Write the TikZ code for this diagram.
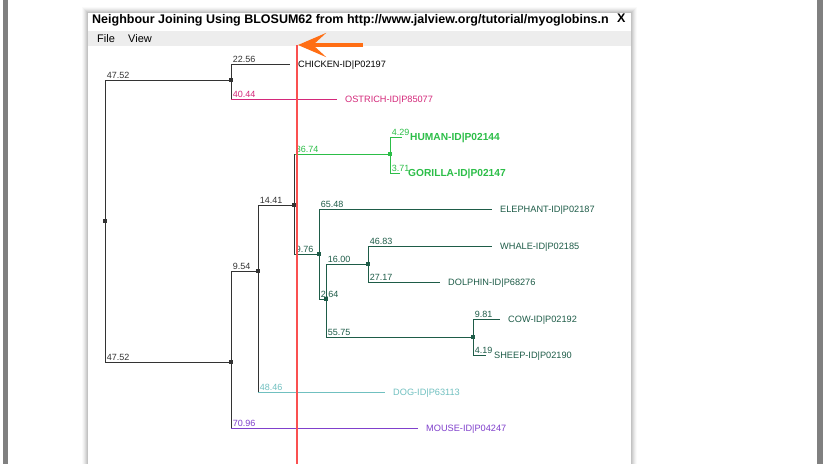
\documentclass[tikz,border=0pt]{standalone}
\usepackage{fontspec}
\setmainfont{Liberation Sans}
\usetikzlibrary{arrows.meta}
\definecolor{ostrichpink}{RGB}{212,40,122}
\definecolor{apegreen}{RGB}{44,190,72}
\definecolor{mammalgreen}{RGB}{30,92,72}
\definecolor{dogteal}{RGB}{112,192,192}
\definecolor{mousepurple}{RGB}{128,64,204}
\definecolor{cutred}{RGB}{250,80,80}
\definecolor{markorange}{RGB}{255,110,20}
\tikzset{
  branch/.style={line width=0.9pt,black!80},
  blen/.style={anchor=south west,inner xsep=1.5pt,inner ysep=1pt,font=\fontsize{9}{10}\selectfont},
  leaf/.style={anchor=west,inner xsep=8pt,inner ysep=0pt,text height=6.6pt,text depth=0pt,font=\fontsize{9.2}{10}\selectfont},
  apeleaf/.style={leaf,text height=7.3pt,font=\fontsize{10.2}{11}\selectfont\bfseries},
  dot/.style={rectangle,fill,inner sep=0pt,minimum size=4pt},
  menu/.style={anchor=base west,inner sep=0pt,font=\fontsize{11}{12}\selectfont}
}
\begin{document}
\begin{tikzpicture}[x=1pt,y=-1pt]
\useasboundingbox (0,0) rectangle (824,464);
\fill[white] (0,0) rectangle (824,464);
\fill[gray] (3,0) rectangle (8,464);
\fill[gray] (817,0) rectangle (823,464);
\foreach \s/\o in {6/.02,5/.03,4/.04,3/.05,2/.06,1/.06}
  \fill[black,opacity=\o] (88-\s,13-\s) rectangle (631+\s,464);
\fill[white] (88,13) rectangle (631,464);
\fill[black!7] (88,31) rectangle (631,46);
\node[anchor=base west,inner sep=0pt,font=\fontsize{12.5}{14}\selectfont\bfseries] (title) at (92,23.5) {Neighbour Joining Using BLOSUM62 from http://www.jalview.org/tutorial/myoglobins.n};
\node[anchor=base west,inner sep=0pt,font=\fontsize{12.5}{14}\selectfont\bfseries] (close) at (617,22) {X};
\node[menu] (file) at (97,42) {File};
\node[menu] (view) at (128,42) {View};

\node[dot,black!80] (root) at (105,221) {};
\node[dot,black!80] (birds) at (231,80) {};
\node[dot,black!80] (mammals) at (231,362) {};
\node[dot,black!80] (nomouse) at (258,271) {};
\node[dot,black!80] (nodog) at (294,205) {};
\node[dot,apegreen] (apes) at (390,154) {};
\node[dot,mammalgreen] (ungulates) at (319,254) {};
\node[dot,mammalgreen] (cetartio) at (326,299) {};
\node[dot,mammalgreen] (cetaceans) at (368,264) {};
\node[dot,mammalgreen] (bovids) at (473,337) {};

\node[leaf,black] (chicken) at (290,64) {CHICKEN-ID|P02197};
\node[leaf,ostrichpink] (ostrich) at (337,99) {OSTRICH-ID|P85077};
\node[apeleaf,apegreen] (human) at (402,137) {HUMAN-ID|P02144};
\node[apeleaf,apegreen] (gorilla) at (400,173) {GORILLA-ID|P02147};
\node[leaf,mammalgreen] (elephant) at (492,209) {ELEPHANT-ID|P02187};
\node[leaf,mammalgreen] (whale) at (492,246) {WHALE-ID|P02185};
\node[leaf,mammalgreen] (dolphin) at (440,282) {DOLPHIN-ID|P68276};
\node[leaf,mammalgreen] (cow) at (500,319) {COW-ID|P02192};
\node[leaf,mammalgreen] (sheep) at (486,355) {SHEEP-ID|P02190};
\node[leaf,dogteal] (dog) at (385,392) {DOG-ID|P63113};
\node[leaf,mousepurple] (mouse) at (418,428) {MOUSE-ID|P04247};

\draw[branch] (root) |- node[blen]{47.52} (birds);
\draw[branch] (root) |- node[blen]{47.52} (mammals);
\draw[branch] (birds) |- node[blen]{22.56} (chicken);
\draw[branch,ostrichpink] (birds) |- node[blen]{40.44} (ostrich);
\draw[branch] (mammals) |- node[blen]{9.54} (nomouse);
\draw[branch,mousepurple] (mammals) |- node[blen]{70.96} (mouse);
\draw[branch] (nomouse) |- node[blen]{14.41} (nodog);
\draw[branch,dogteal] (nomouse) |- node[blen]{48.46} (dog);
\draw[branch,apegreen] (nodog) |- node[blen]{36.74} (apes);
\draw[branch,mammalgreen] (nodog) |- node[blen]{9.76} (ungulates);
\draw[branch,apegreen] (apes) |- node[blen]{4.29} (human);
\draw[branch,apegreen] (apes) |- node[blen]{3.71} (gorilla);
\draw[branch,mammalgreen] (ungulates) |- node[blen]{65.48} (elephant);
\draw[branch,mammalgreen] (ungulates) |- node[blen]{2.64} (cetartio);
\draw[branch,mammalgreen] (cetartio) |- node[blen]{16.00} (cetaceans);
\draw[branch,mammalgreen] (cetartio) |- node[blen]{55.75} (bovids);
\draw[branch,mammalgreen] (cetaceans) |- node[blen]{46.83} (whale);
\draw[branch,mammalgreen] (cetaceans) |- node[blen]{27.17} (dolphin);
\draw[branch,mammalgreen] (bovids) |- node[blen]{9.81} (cow);
\draw[branch,mammalgreen] (bovids) |- node[blen]{4.19} (sheep);
\draw[branch] (birds |- chicken) -- (birds |- ostrich);
\draw[branch] (mammals |- nomouse) -- (mammals |- mouse);
\draw[branch] (nomouse |- nodog) -- (nomouse |- dog);
\draw[branch] (nodog |- apes) -- (nodog |- ungulates);

\coordinate (cut top) at (297,45);
\coordinate (cut bottom) at (297,464);
\draw[cutred,line width=1.1pt] (cut top) -- (cut bottom);
\coordinate (arrow tail) at (363,45);
\coordinate (arrow tip) at (298,45);
\draw[markorange,line width=4pt,-{Stealth[length=28pt,width=24pt,inset=13pt]}] (arrow tail) -- (arrow tip);
\end{tikzpicture}
\end{document}
